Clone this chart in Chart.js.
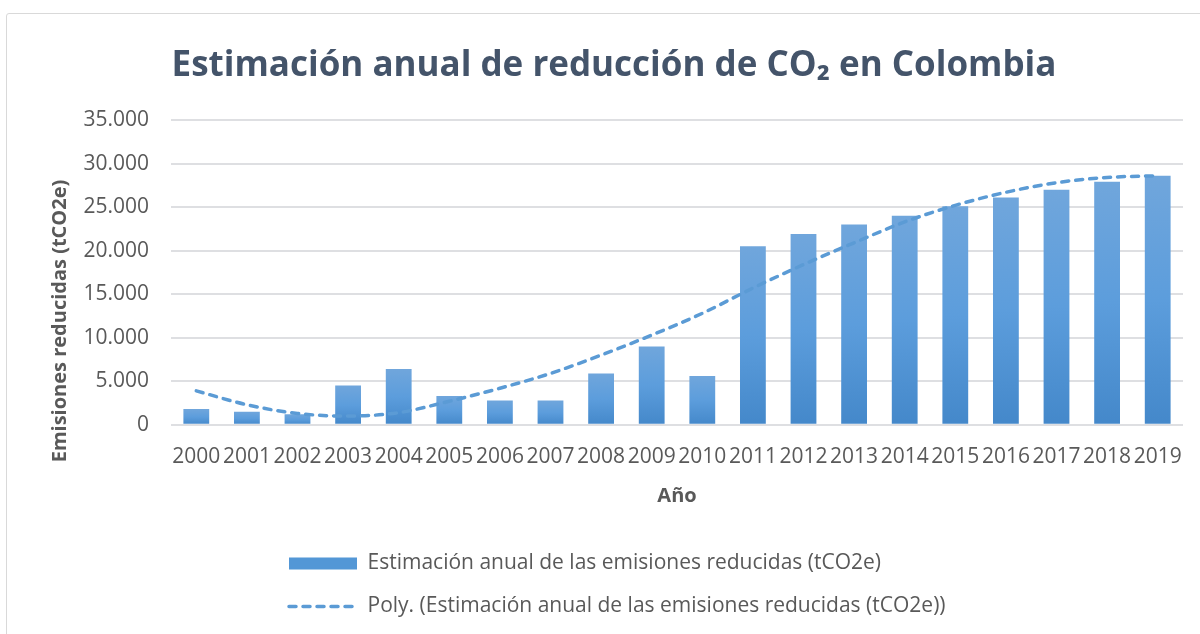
<!DOCTYPE html>
<html>
<head>
<meta charset="utf-8">
<script src="https://cdn.jsdelivr.net/npm/chart.js@4.4.1/dist/chart.umd.min.js"></script>
<style>
  html, body { margin: 0; padding: 0; background: #fff; overflow: hidden; }
  .frame { position: absolute; left: 6px; top: 13px; width: 1200px; height: 640px; border: 1px solid #D9D9D9; border-radius: 3px; }
  .frame canvas { position: absolute; left: 0; top: 0; }
</style>
</head>
<body>
<div class="frame">
  <canvas id="co2chart" width="1193" height="626"></canvas>
</div>
<script>
const years = ['2000','2001','2002','2003','2004','2005','2006','2007','2008','2009',
               '2010','2011','2012','2013','2014','2015','2016','2017','2018','2019'];
const emisiones = [1800, 1500, 1200, 4500, 6400, 3300, 2800, 2800, 5900, 9000,
                   5600, 20500, 21900, 23000, 24000, 25100, 26100, 27000, 27900, 28600];
// tendencia polinómica
const tendencia = [3900, 2300, 1300, 1000, 1400, 2700, 4200, 5900, 8000, 10300,
                   12800, 15700, 18400, 20900, 23300, 25200, 26700, 27800, 28400, 28600];
const yTicks = [0, 5000, 10000, 15000, 20000, 25000, 30000, 35000];

const labelColor = '#595959';
const blue = '#5B9BD5';

function fmt(v) {
  return String(v).replace(/\B(?=(\d{3})+(?!\d))/g, '.');
}

function barFill(context) {
  if (context.type !== 'data' || !context.chart.chartArea) return blue;
  const y = context.chart.scales.y;
  const top = y.getPixelForValue(context.raw);
  const bottom = y.getPixelForValue(0);
  const g = context.chart.ctx.createLinearGradient(0, top, 0, bottom);
  g.addColorStop(0, '#70A6DC');
  g.addColorStop(0.5, '#5C9DDC');
  g.addColorStop(1, '#4488CA');
  return g;
}

// titulo del eje Y dibujado a mano para poder bajarlo como en el original
const yTitle = {
  id: 'yTitle',
  afterDraw(chart) {
    const ctx = chart.ctx;
    ctx.save();
    ctx.translate(53, 307);
    ctx.rotate(-Math.PI / 2);
    ctx.font = 'bold 20px "Open Sans"';
    ctx.fillStyle = labelColor;
    ctx.textAlign = 'center';
    ctx.textBaseline = 'middle';
    ctx.fillText('Emisiones reducidas (tCO2e)', 0, 0);
    ctx.restore();
  }
};

// mover la leyenda para que las dos filas empiecen en la misma x
const legendShift = {
  id: 'legendShift',
  afterLayout(chart) {
    const lg = chart.legend;
    const w = lg.right - lg.left;
    lg.left = 260;
    lg.right = 260 + w;
  }
};

const ctx = document.getElementById('co2chart').getContext('2d');
const co2chart = new Chart(ctx, {
  type: 'bar',
  data: {
    labels: years,
    datasets: [{
      type: 'bar',
      label: 'Estimación anual de las emisiones reducidas (tCO2e)',
      data: emisiones,
      backgroundColor: barFill,
      barPercentage: 0.51,
      categoryPercentage: 1,
      order: 2
    }, {
      type: 'line',
      label: 'Poly. (Estimación anual de las emisiones reducidas (tCO2e))',
      data: tendencia,
      borderColor: blue,
      borderWidth: 3.5,
      borderDash: [7, 7],
      borderCapStyle: 'round',
      pointRadius: 0,
      fill: false,
      cubicInterpolationMode: 'monotone',
      order: 1
    }]
  },
  options: {
    responsive: false,
    animation: false,
    layout: {
      padding: { left: 38, right: 17, top: 0, bottom: 13 }
    },
    plugins: {
      title: {
        display: true,
        text: 'Estimación anual de reducción de CO₂ en Colombia',
        color: '#44546A',
        font: { family: 'Open Sans', size: 35, weight: 'bold' },
        padding: { top: 31, bottom: 33 }
      },
      legend: {
        display: true,
        position: 'bottom',
        align: 'start',
        labels: {
          color: labelColor,
          font: { family: 'Open Sans', size: 21 },
          usePointStyle: true,
          pointStyleWidth: 68,
          boxWidth: 68,
          boxHeight: 12,
          padding: 22,
          generateLabels: function(chart) {
            const items = Chart.defaults.plugins.legend.labels.generateLabels(chart);
            items.sort(function(a, b) { return a.datasetIndex - b.datasetIndex; });
            items[0].pointStyle = 'rect';
            items[0].fillStyle = '#5397D6';
            items[0].lineWidth = 0;
            items[1].pointStyle = 'line';
            items[1].strokeStyle = blue;
            items[1].lineWidth = 3.5;
            items[1].lineCap = 'round';
            items[1].lineDash = [7, 7];
            return items;
          }
        }
      },
      tooltip: { enabled: false }
    },
    scales: {
      x: {
        grid: { display: false },
        border: { display: false },
        ticks: {
          color: labelColor,
          font: { family: 'Open Sans', size: 21 },
          autoSkip: false,
          maxRotation: 0,
          minRotation: 0,
          padding: 12
        },
        title: {
          display: true,
          text: 'Año',
          color: labelColor,
          font: { family: 'Open Sans', size: 20, weight: 'bold' },
          padding: { top: 2, bottom: 23 }
        }
      },
      y: {
        min: 0,
        max: 35000,
        afterFit: function(scale) { scale.width = 126; },
        afterBuildTicks: function(scale) {
          scale.ticks = yTicks.map(function(v) { return { value: v }; });
        },
        grid: { color: '#DEDFE2', lineWidth: 2, drawTicks: false },
        border: { display: false },
        ticks: {
          color: labelColor,
          font: { family: 'Open Sans', size: 21 },
          padding: 22,
          callback: function(v) { return fmt(v); }
        }
      }
    }
  },
  plugins: [yTitle, legendShift]
});
</script>
</body>
</html>
